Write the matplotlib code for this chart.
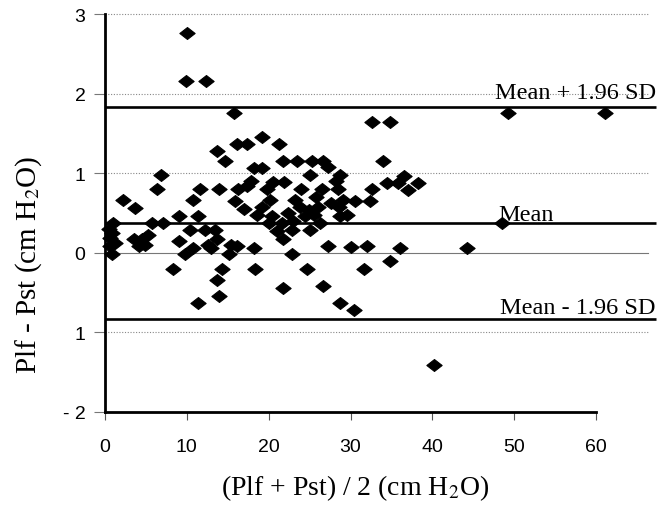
import matplotlib
matplotlib.use('Agg')
import matplotlib.pyplot as plt
from matplotlib.path import Path

# ---- data ----
x_avg = [10.0, 9.9, 12.3, 15.8, 49.3, 61.1, 32.6, 34.8, 34.0, 36.5, 38.3, 34.4, 37.0,
         48.5, 36.1, 44.2, 34.8, 40.2,
         13.7, 14.7, 16.1, 17.3, 19.2, 21.3, 21.8, 23.5, 25.3, 26.6, 27.3, 28.7, 25.1,
         18.2, 19.2, 6.8, 6.4, 2.2, 3.7, 11.6, 10.8, 13.9, 16.2, 17.3, 17.9, 15.9, 20.5,
         21.9, 20.2, 19.2, 24.0, 23.2, 23.8, 24.9, 26.5, 28.5, 29.1, 30.6, 32.6, 32.4,
         28.6, 28.7, 25.5, 26.3, 25.1, 22.8, 21.6, 20.0, 20.4, 21.8, 22.8, 24.7, 27.2,
         32.0, 31.7, 26.7, 21.8, 28.7, 30.4, 18.2, 18.3, 16.1, 15.1, 13.4, 13.7, 13.0,
         14.3, 13.7, 13.9, 11.4, 11.4, 10.4, 10.8, 9.8, 9.0, 9.0, 8.3, 7.1, 5.7, 4.5,
         4.1, 1.0, 0.8, 0.6, 0.8, 0.6, 3.5, 4.9,
         18.6, 22.4, 24.4, 26.0, 27.6, 19.8, 23.0, 17.0, 12.2, 15.4, 21.0, 25.8, 29.6,
         12.6, 5.2, 1.2, 0.5, 30.0, 35.8, 28.2]
y_diff = [2.77, 2.16, 2.16, 1.76, 1.76, 1.76, 1.64, 1.64, 1.16, 0.97, 0.88, 0.88, 0.79,
          0.38, 0.06, 0.06, -0.11, -1.42,
          1.28, 1.16, 1.37, 1.37, 1.46, 1.37, 1.16, 1.16, 1.16, 1.16, 1.08, 0.98, 0.98,
          1.07, 1.07, 0.98, 0.80, 0.67, 0.56, 0.80, 0.67, 0.80, 0.80, 0.84, 0.90, 0.65, 0.89,
          0.89, 0.67, 0.57, 0.80, 0.67, 0.58, 0.54, 0.80, 0.80, 0.67, 0.65, 0.80, 0.65,
          0.57, 0.46, 0.48, 0.38, 0.29, 0.29, 0.38, 0.38, 0.46, 0.17, -0.02, -0.21, 0.08,
          0.08, -0.21, -0.42, -0.44, -0.63, -0.72, 0.06, -0.21, 0.08, -0.02, 0.29, 0.17, 0.06,
          -0.21, -0.34, -0.55, -0.63, 0.46, 0.29, 0.06, -0.02, 0.15, 0.46, -0.21, 0.38, 0.38, 0.17,
          0.08, 0.38, 0.25, 0.08, -0.02, 0.19, 0.17, 0.10,
          0.48, 0.50, 0.46, 0.58, 0.62, 0.80, 0.40, 0.55, 0.28, 0.10, 0.27, 0.70, 0.48,
          0.10, 0.22, 0.12, 0.30, 0.07, 0.88, 0.90]

mean_diff = 0.38
upper_loa = 1.83
lower_loa = -0.84
line_labels = ['Mean + 1.96 SD', 'Mean', 'Mean - 1.96 SD']

x_ticks = [0, 10, 20, 30, 40, 50, 60]
x_tick_labels = ['0', '10', '20', '30', '40', '50', '60']
y_ticks = [3, 2, 1, 0, -1, -2]
y_tick_labels = ['3', '2', '1', '0', '1', '- 2']
grid_levels = [3, 2, 1, -1]

# ---- figure ----
plt.rcParams['mathtext.fontset'] = 'stix'
W, H = 666, 506
fig = plt.figure(figsize=(W / 100, H / 100), dpi=100)
ax = fig.add_axes([105 / W, 1 - 412.5 / H, 491 / W, 397 / H])
ax.set_xlim(0, 60)
ax.set_ylim(-2, 3)

x_end_lines = 67.3
x_end_grid = 66.3

# gridlines (extend beyond the axes like the reference)
for g in grid_levels:
    ax.plot([0, x_end_grid], [g, g], color='#888888', lw=0.8,
            linestyle=(0, (1, 1.5)), clip_on=False, zorder=1)
ax.plot([0, x_end_grid], [0, 0], color='#777777', lw=0.8, clip_on=False, zorder=1)

# limits of agreement / mean
for v in (upper_loa, mean_diff, lower_loa):
    ax.plot([0, x_end_lines], [v, v], color='black', lw=1.9, clip_on=False, zorder=2,
            solid_capstyle='butt')

serif = ['Liberation Serif', 'DejaVu Serif']
ax.text(x_end_lines, upper_loa + 0.12, line_labels[0], ha='right', va='baseline',
        fontsize=17.5, family=serif)
ax.text(48.0, mean_diff + 0.03, line_labels[1], ha='left', va='baseline',
        fontsize=17.5, family=serif)
ax.text(x_end_lines, lower_loa + 0.075, line_labels[2], ha='right', va='baseline',
        fontsize=17.5, family=serif)

# diamond markers
diamond = Path([(-1, 0), (0, 0.78), (1, 0), (0, -0.78), (-1, 0)],
               [Path.MOVETO, Path.LINETO, Path.LINETO, Path.LINETO, Path.CLOSEPOLY])
ax.plot(x_avg, y_diff, linestyle='none', marker=diamond, markersize=11,
        markerfacecolor='black', markeredgecolor='black', markeredgewidth=0.8,
        clip_on=False, zorder=3)

# spines
for s in ('top', 'right'):
    ax.spines[s].set_visible(False)
for s in ('left', 'bottom'):
    ax.spines[s].set_linewidth(2.0)
    ax.spines[s].set_color('black')

ax.set_xticks(x_ticks)
ax.set_xticklabels(x_tick_labels)
ax.set_yticks(y_ticks)
ax.set_yticklabels(y_tick_labels)
ax.tick_params(axis='x', direction='out', length=6, width=0.8, color='#555555',
               pad=13, labelsize=14)
ax.tick_params(axis='y', direction='out', length=8, width=0.8, color='#777777',
               pad=6, labelsize=14)
for lab in ax.get_xticklabels() + ax.get_yticklabels():
    lab.set_family(['Liberation Sans', 'DejaVu Sans'])

fig.text(355 / W, 1 - 488 / H, r'(Plf + Pst) / 2 (cm H$_2$O)', ha='center', va='center',
         fontsize=20, family=serif)
fig.text(29 / W, 1 - 265 / H, r'Plf - Pst (cm H$_2$O)', ha='center', va='center',
         rotation=90, fontsize=21, family=serif)

fig.savefig('out.png', dpi=100)
